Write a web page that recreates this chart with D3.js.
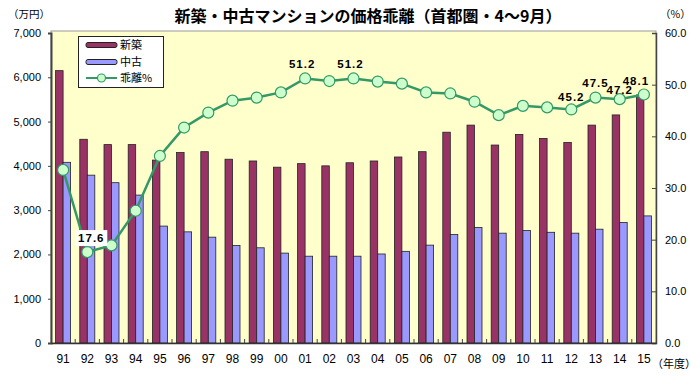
<!DOCTYPE html>
<html><head><meta charset="utf-8">
<script src="https://cdn.jsdelivr.net/npm/d3@7"></script>
<style>
html,body{margin:0;padding:0;background:#fff;}
svg{display:block;}
text{font-family:"Liberation Sans",Arial,sans-serif;}
.jp{font-family:"Noto Sans CJK JP","Noto Sans",sans-serif;}
</style></head>
<body>
<svg id="chart" width="700" height="379"></svg>
<script>
const years = ["91","92","93","94","95","96","97","98","99","00","01","02","03","04","05","06","07","08","09","10","11","12","13","14","15"];
const newPrice = [6150,4600,4480,4480,4130,4300,4320,4150,4110,3970,4050,4000,4070,4110,4200,4320,4760,4920,4470,4710,4620,4530,4920,5150,5600];
const usedPrice = [4080,3790,3620,3340,2640,2510,2390,2200,2150,2030,1960,1960,1960,2010,2070,2210,2450,2610,2480,2540,2500,2480,2570,2720,2870];
const gapPct = [33.5,17.6,18.9,25.6,36.2,41.7,44.6,46.9,47.5,48.5,51.2,50.7,51.2,50.6,50.2,48.5,48.3,46.7,44.1,45.9,45.6,45.2,47.5,47.2,48.1];
const leftTicks = [0,1000,2000,3000,4000,5000,6000,7000];
const rightTicks = [0,10,20,30,40,50,60];
const labeledYears = ["92","01","03","12","13","14","15"];
const seriesNames = ["新築","中古","乖離%"];
const titleText = "新築・中古マンションの価格乖離（首都圏・4～9月）";

const colors = {new:"#993366", used:"#9999FF", line:"#339966", marker:"#CCFFCC"};
const svg = d3.select("#chart");
const L=51, R=656, T=31, B=343;

const x0 = d3.scaleBand().domain(years).range([L,R]).paddingInner(0.38).paddingOuter(0.19);
const x1 = d3.scaleBand().domain(["new","used"]).range([0,x0.bandwidth()]);
const yL = d3.scaleLinear().domain([0,7000]).range([B,T+2]);
const yR = d3.scaleLinear().domain([0,60]).range([B,T+2]);

// plot background
svg.append("rect").attr("x",L).attr("y",T).attr("width",R-L).attr("height",B-T)
  .attr("fill","#FFFFCC").attr("stroke","#999").attr("stroke-width",1);

// bars
const g = svg.append("g");
years.forEach((yr,i)=>{
  g.append("rect").attr("x",x0(yr)+x1("new")).attr("y",yL(newPrice[i]))
    .attr("width",x1.bandwidth()).attr("height",B-yL(newPrice[i]))
    .attr("fill",colors.new).attr("stroke","#222").attr("stroke-width",0.8);
  g.append("rect").attr("x",x0(yr)+x1("used")).attr("y",yL(usedPrice[i]))
    .attr("width",x1.bandwidth()).attr("height",B-yL(usedPrice[i]))
    .attr("fill",colors.used).attr("stroke","#222").attr("stroke-width",0.8);
});

// axes
const axL = d3.axisLeft(yL).tickValues(leftTicks).tickSize(3).tickFormat(d3.format(","));
const gL = svg.append("g").attr("transform",`translate(${L},0)`).call(axL);
gL.select(".domain").attr("stroke","#444").attr("stroke-width",2);
gL.selectAll(".tick line").attr("stroke","#444");
gL.selectAll("text").attr("x",-10).attr("font-size",11).attr("fill","#000");

const axR = d3.axisRight(yR).tickValues(rightTicks).tickSize(-4).tickFormat(d3.format(".1f"));
const gR = svg.append("g").attr("transform",`translate(${R},0)`).call(axR);
gR.select(".domain").attr("stroke","#444").attr("stroke-width",1.5);
gR.selectAll(".tick line").attr("stroke","#444");
gR.selectAll("text").attr("x",9).attr("font-size",11).attr("fill","#000");

const axB = d3.axisBottom(x0).tickSize(0);
const gB = svg.append("g").attr("transform",`translate(0,${B})`).call(axB);
gB.select(".domain").attr("stroke","#333").attr("stroke-width",1.5);
gB.selectAll("text").attr("y",11).attr("font-size",12).attr("fill","#000");
// category separators (small ticks)
years.slice(1).forEach(yr=>{
  const xx = x0(yr) - x0.step()*x0.paddingInner()/2;
  svg.append("line").attr("x1",xx).attr("x2",xx).attr("y1",B).attr("y2",B-4).attr("stroke","#444");
});

// line
const cx = yr => x0(yr)+x0.bandwidth()/2;
const line = d3.line().x((d,i)=>cx(years[i])).y(d=>yR(d));
svg.append("path").datum(gapPct).attr("d",line).attr("fill","none")
  .attr("stroke",colors.line).attr("stroke-width",2.5);
svg.selectAll("circle.pt").data(gapPct).enter().append("circle")
  .attr("cx",(d,i)=>cx(years[i])).attr("cy",d=>yR(d)).attr("r",5.5)
  .attr("fill",colors.marker).attr("stroke",colors.line).attr("stroke-width",1.2);

// data labels
const labelOffsets = {"92":[4,-14],"01":[-3,-14],"03":[-3,-14],"12":[0,-12],"13":[0,-15],"14":[0,-9],"15":[-8,-14]};
labeledYears.forEach(yr=>{
  const i = years.indexOf(yr);
  const [dx,dy] = labelOffsets[yr];
  const tx = cx(yr)+dx, ty = yR(gapPct[i])+dy;
  if(yr==="92"){
    svg.append("rect").attr("x",tx-16).attr("y",ty-8).attr("width",32).attr("height",16).attr("fill","#fff");
  }
  svg.append("text").attr("x",tx).attr("y",ty).attr("dy","0.35em").attr("text-anchor","middle")
    .attr("font-size",11.5).attr("font-weight","bold").attr("letter-spacing","1px")
    .text(gapPct[i].toFixed(1));
});

// legend
const lg = svg.append("g");
lg.append("rect").attr("x",78.5).attr("y",36.5).attr("width",85).attr("height",51)
  .attr("fill","#fff").attr("stroke","#222").attr("stroke-width",1);
const rows=[45,62,78];
[["new",0],["used",1]].forEach(([k,i])=>{
  lg.append("rect").attr("x",86).attr("y",rows[i]-2.5).attr("width",31).attr("height",5).attr("rx",2)
    .attr("fill",colors[k]).attr("stroke","#222").attr("stroke-width",1);
});
lg.append("line").attr("x1",86).attr("x2",117).attr("y1",rows[2]).attr("y2",rows[2]).attr("stroke",colors.line).attr("stroke-width",2);
lg.append("circle").attr("cx",101.5).attr("cy",rows[2]).attr("r",4).attr("fill",colors.marker).attr("stroke",colors.line).attr("stroke-width",1.2);
seriesNames.forEach((s,i)=>{
  lg.append("text").attr("class","jp").attr("x",120).attr("y",rows[i]).attr("dy","0.36em")
    .attr("font-size",11).text(s);
});

// titles and units
svg.append("text").attr("class","jp").attr("x",368).attr("y",16).attr("dy","0.35em")
  .attr("text-anchor","middle").attr("font-size",16).attr("font-weight","bold").text(titleText);
svg.append("text").attr("class","jp").attr("x",8).attr("y",14).attr("dy","0.35em").attr("font-size",10.5).text("（万円）");
svg.append("text").attr("class","jp").attr("x",660).attr("y",14).attr("dy","0.35em").attr("font-size",10.5).text("（%）");
svg.append("text").attr("class","jp").attr("x",652).attr("y",364).attr("dy","0.35em").attr("font-size",11).text("（年度）");
</script>
</body></html>
